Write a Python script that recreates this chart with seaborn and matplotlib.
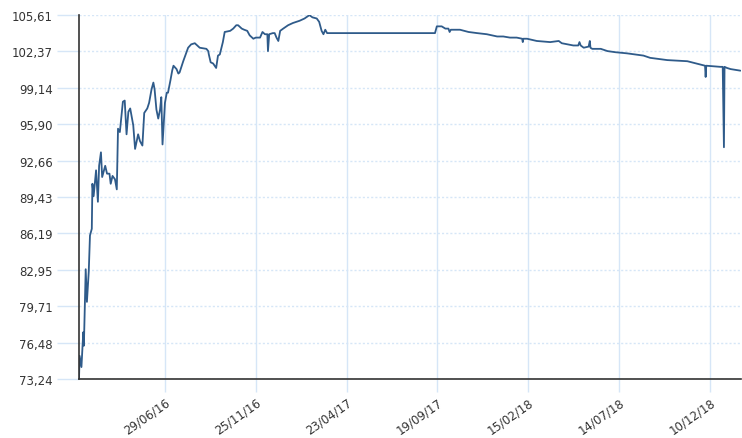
import numpy as np
import pandas as pd
import seaborn as sns
import matplotlib.pyplot as plt

# price series
dates = [
    "2016-02-09", "2016-02-10", "2016-02-13", "2016-02-16", "2016-02-17", "2016-02-20",
    "2016-02-22", "2016-02-25", "2016-02-27", "2016-03-01", "2016-03-02", "2016-03-04",
    "2016-03-08", "2016-03-11", "2016-03-13", "2016-03-16", "2016-03-18", "2016-03-23",
    "2016-03-26", "2016-03-30", "2016-04-01", "2016-04-04", "2016-04-08", "2016-04-11",
    "2016-04-13", "2016-04-16", "2016-04-21", "2016-04-24", "2016-04-27", "2016-04-30",
    "2016-05-03", "2016-05-08", "2016-05-11", "2016-05-16", "2016-05-19", "2016-05-23",
    "2016-05-26", "2016-05-31", "2016-06-03", "2016-06-07", "2016-06-10", "2016-06-12",
    "2016-06-15", "2016-06-18", "2016-06-21", "2016-06-23", "2016-06-25", "2016-06-29",
    "2016-07-02", "2016-07-04", "2016-07-08", "2016-07-11", "2016-07-13", "2016-07-18",
    "2016-07-21", "2016-07-23", "2016-07-29", "2016-08-06", "2016-08-11", "2016-08-17",
    "2016-08-25", "2016-09-05", "2016-09-08", "2016-09-09", "2016-09-12", "2016-09-16",
    "2016-09-21", "2016-09-24", "2016-09-27", "2016-10-02", "2016-10-05", "2016-10-14",
    "2016-10-19", "2016-10-24", "2016-10-27", "2016-11-02", "2016-11-06", "2016-11-11",
    "2016-11-15", "2016-11-21", "2016-11-25", "2016-12-02", "2016-12-06", "2016-12-10",
    "2016-12-14", "2016-12-15", "2016-12-17", "2016-12-23", "2016-12-26", "2016-12-29",
    "2017-01-01", "2017-01-04", "2017-01-09", "2017-01-17", "2017-01-25", "2017-02-05",
    "2017-02-13", "2017-02-21", "2017-02-26", "2017-03-05", "2017-03-09", "2017-03-13",
    "2017-03-16", "2017-03-19", "2017-03-22", "2017-06-15", "2017-09-15", "2017-09-18",
    "2017-09-26", "2017-10-02", "2017-10-07", "2017-10-09", "2017-10-11", "2017-10-26",
    "2017-11-09", "2017-11-23", "2017-12-09", "2017-12-26", "2018-01-05", "2018-01-16",
    "2018-01-27", "2018-02-05", "2018-02-06", "2018-02-07", "2018-02-13", "2018-03-01",
    "2018-03-23", "2018-04-06", "2018-04-11", "2018-04-30", "2018-05-08", "2018-05-10",
    "2018-05-12", "2018-05-17", "2018-05-25", "2018-05-27", "2018-05-28", "2018-05-31",
    "2018-06-14", "2018-06-25", "2018-07-08", "2018-07-27", "2018-08-23", "2018-09-03",
    "2018-10-01", "2018-11-03", "2018-11-25", "2018-12-02", "2018-12-03", "2018-12-04",
    "2018-12-27", "2018-12-31", "2019-01-02", "2019-01-03", "2019-01-07", "2019-01-13",
    "2019-01-29",
]
prices = [
    73.24, 75.3, 74.3, 77.4, 76.2, 83.0,
    80.1, 82.8, 86.0, 86.6, 90.6, 89.5,
    91.8, 89.0, 92.2, 93.4, 91.2, 92.2,
    91.5, 91.5, 90.6, 91.3, 91.0, 90.1,
    95.5, 95.2, 97.9, 98.0, 95.0, 97.0,
    97.3, 95.8, 93.7, 95.0, 94.4, 94.0,
    96.9, 97.3, 97.8, 99.0, 99.6, 99.0,
    97.2, 96.4, 97.2, 98.3, 94.1, 97.8,
    98.7, 98.7, 99.8, 100.7, 101.1, 100.8,
    100.4, 100.5, 101.5, 102.7, 103.0, 103.1,
    102.7, 102.6, 102.4, 102.1, 101.4, 101.3,
    100.9, 102.0, 102.1, 103.2, 104.1, 104.2,
    104.4, 104.7, 104.7, 104.4, 104.3, 104.2,
    103.8, 103.5, 103.6, 103.6, 104.1, 103.9,
    103.9, 102.4, 103.9, 104.0, 104.0, 103.6,
    103.3, 104.2, 104.4, 104.7, 104.9, 105.1,
    105.3, 105.6, 105.4, 105.3, 105.0, 104.2,
    103.9, 104.3, 104.0, 104.0, 104.0, 104.6,
    104.6, 104.4, 104.4, 104.1, 104.3, 104.3,
    104.1, 104.0, 103.9, 103.7, 103.7, 103.6,
    103.6, 103.5, 103.2, 103.5, 103.5, 103.3,
    103.2, 103.3, 103.1, 102.9, 102.9, 103.2,
    102.9, 102.7, 102.8, 103.3, 102.7, 102.6,
    102.6, 102.4, 102.3, 102.2, 102.0, 101.8,
    101.6, 101.5, 101.2, 101.1, 100.1, 101.1,
    101.0, 101.0, 93.85, 101.0, 100.9, 100.8,
    100.66,
]

y_ticks = [73.24, 76.48, 79.71, 82.95, 86.19, 89.43, 92.66, 95.90, 99.14, 102.37, 105.61]
y_labels = ["73,24", "76,48", "79,71", "82,95", "86,19", "89,43",
            "92,66", "95,90", "99,14", "102,37", "105,61"]
x_ticks = ["2016-06-29", "2016-11-25", "2017-04-23", "2017-09-19",
           "2018-02-15", "2018-07-14", "2018-12-10"]
x_labels = ["29/06/16", "25/11/16", "23/04/17", "19/09/17",
            "15/02/18", "14/07/18", "10/12/18"]
x_start, x_end = "2016-02-09", "2019-01-30"

df = pd.DataFrame({"date": pd.to_datetime(dates), "price": prices})

sns.set_style("white")
plt.rcParams['font.family'] = ['DejaVu Sans']

fig = plt.figure(figsize=(7.42, 4.39), dpi=100)
ax = fig.add_axes([79 / 742, 1 - 380 / 439, 662 / 742, 364 / 439])

sns.lineplot(data=df, x="date", y="price", ax=ax, color="#2f5b8a", linewidth=1.3)

grid_blue = "#d6e6f7"
ax.set_xlim(pd.Timestamp(x_start), pd.Timestamp(x_end))
ax.set_ylim(y_ticks[0], y_ticks[-1])

ax.set_yticks(y_ticks)
ax.set_yticklabels(y_labels)
ax.set_xticks(pd.to_datetime(x_ticks))
ax.set_xticklabels(x_labels, rotation=35, ha="right", rotation_mode="anchor")

ax.yaxis.grid(True, color=grid_blue, linestyle=(0, (1.5, 1.5)), linewidth=1)
ax.xaxis.grid(True, color=grid_blue, linestyle="-", linewidth=1)
ax.set_axisbelow(True)

ax.tick_params(axis="y", left=True, length=16, width=1, color=grid_blue, pad=3,
               labelsize=8.5, labelcolor="#333333")
ax.tick_params(axis="x", bottom=True, length=9.5, width=1, color=grid_blue, pad=2,
               labelsize=8.5, labelcolor="#333333")

for side in ["top", "right"]:
    ax.spines[side].set_visible(False)
for side in ["left", "bottom"]:
    ax.spines[side].set_color("#333333")
    ax.spines[side].set_linewidth(1.2)

ax.set_xlabel("")
ax.set_ylabel("")

fig.savefig("out.png", dpi=100)
